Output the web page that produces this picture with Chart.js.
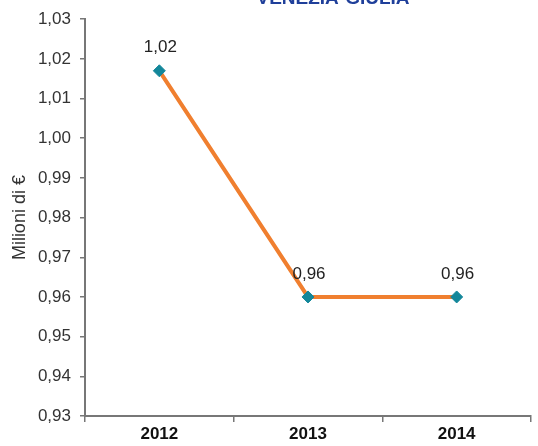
<!DOCTYPE html>
<html>
<head>
<meta charset="utf-8">
<script src="https://cdn.jsdelivr.net/npm/chart.js@4"></script>
<style>
html,body{margin:0;padding:0;background:#fff;}
#wrap{width:538px;height:446px;position:relative;}
</style>
</head>
<body>
<div id="wrap"><canvas id="chart"></canvas></div>
<script>
const anni = ["2012", "2013", "2014"];
const valori = [1.017, 0.96, 0.96];
const yTicks = [0.93, 0.94, 0.95, 0.96, 0.97, 0.98, 0.99, 1.00, 1.01, 1.02, 1.03];
const titolo = "VENEZIA-GIULIA";
const asseY = "Milioni di €";

const fmt = v => v.toFixed(2).replace('.', ',');

// titolo tagliato in alto + etichette sui punti
const extra = {
  id: 'extra',
  afterDatasetsDraw(chart) {
    const ctx = chart.ctx;
    ctx.save();
    ctx.font = 'bold 19px "Liberation Sans", Arial, sans-serif';
    ctx.fillStyle = '#1f3f9a';
    ctx.textAlign = 'center';
    ctx.textBaseline = 'alphabetic';
    ctx.fillText(titolo, 333, 4);

    ctx.font = '17px "Liberation Sans", Arial, sans-serif';
    ctx.fillStyle = '#222';
    ctx.textBaseline = 'middle';
    chart.getDatasetMeta(0).data.forEach((p, i) => {
      ctx.fillText(fmt(valori[i]), p.x + 1, p.y - 23);
    });
    ctx.restore();
  }
};

new Chart(document.getElementById('chart'), {
  type: 'line',
  data: {
    labels: anni,
    datasets: [{
      data: valori,
      borderColor: '#f07f2f',
      borderWidth: 4,
      pointStyle: 'rectRot',
      pointRadius: 6,
      pointHoverRadius: 6,
      pointBackgroundColor: '#13879a',
      pointBorderColor: '#13879a',
      pointBorderWidth: 1,
      tension: 0,
      fill: false
    }]
  },
  options: {
    responsive: true,
    maintainAspectRatio: false,
    animation: false,
    layout: { padding: { top: 18, right: 0, left: 0, bottom: 0 } },
    plugins: { legend: { display: false }, tooltip: { enabled: false } },
    scales: {
      x: {
        offset: true,
        grid: { offset: true, drawOnChartArea: false, drawTicks: true, tickLength: 6, color: '#777', lineWidth: 1.5 },
        border: { display: true, color: '#777', width: 2 },
        ticks: { color: '#111', font: { family: '"Liberation Sans", Arial', size: 17, weight: 'bold' }, padding: 2 },
        afterFit(s) { s.height = 30; }
      },
      y: {
        min: 0.93,
        max: 1.03,
        afterBuildTicks(s) { s.ticks = yTicks.map(v => ({ value: v })); },
        grid: { drawOnChartArea: false, drawTicks: true, tickLength: 5, color: '#777', lineWidth: 1.5 },
        border: { display: true, color: '#777', width: 2 },
        ticks: { color: '#333', font: { family: '"Liberation Sans", Arial', size: 17 }, padding: 9, callback: v => fmt(v) },
        title: { display: true, text: asseY, color: '#333', font: { family: '"Liberation Sans", Arial', size: 18 }, padding: { top: 9, bottom: 0 } },
        afterFit(s) { s.width = 85; }
      }
    }
  },
  plugins: [extra]
});
</script>
</body>
</html>
